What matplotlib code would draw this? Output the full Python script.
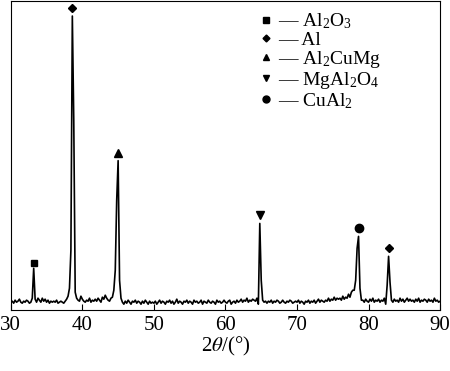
import numpy as np
import matplotlib.pyplot as plt
from matplotlib.lines import Line2D

# 2theta grid, 0.2 deg step, 30..90
two_theta = np.round(np.arange(30.0, 90.0001, 0.2), 1)

intensity = [
    8, 9, 7, 10, 8, 9, 11, 8, 7, 9,        # 30-32
    8, 10, 9, 7, 8, 12, 42, 11, 8, 12,     # 32-34
    10, 8, 12, 9, 11, 8, 10, 7, 9, 8,      # 34-36
    9, 8, 10, 7, 8, 9, 8, 7, 9, 11,        # 36-38
    14, 22, 60, 295, 190, 18, 12, 10, 9, 14,  # 38-40
    11, 9, 8, 10, 9, 12, 8, 10, 9, 11,     # 40-42
    9, 12, 10, 8, 13, 11, 15, 12, 10, 9,   # 42-44
    12, 13, 20, 40, 110, 150, 30, 12, 8, 6,  # 44-46
    9, 7, 10, 8, 6, 9, 8, 10, 7, 9,        # 46-48
    8, 6, 9, 7, 10, 8, 6, 9, 7, 8,         # 48-50
    7, 9, 6, 8, 10, 7, 9, 8, 6, 9,         # 50-52
    8, 10, 7, 9, 6, 8, 11, 7, 9, 8,        # 52-54
    6, 9, 8, 10, 7, 9, 8, 6, 10, 8,        # 54-56
    9, 7, 8, 10, 6, 9, 8, 7, 10, 8,        # 56-58
    7, 9, 8, 6, 10, 8, 9, 7, 8, 10,        # 58-60
    8, 7, 9, 10, 6, 8, 9, 7, 10, 8,        # 60-62
    9, 11, 8, 10, 9, 12, 8, 10, 9, 11,     # 62-64
    10, 9, 12, 6, 87, 30, 10, 8, 9, 7,     # 64-66
    9, 8, 10, 7, 9, 8, 10, 9, 7, 8,        # 66-68
    10, 8, 7, 9, 8, 10, 9, 7, 8, 9,        # 68-70
    8, 10, 7, 9, 8, 6, 9, 8, 10, 7,        # 70-72
    9, 8, 10, 7, 9, 11, 8, 10, 9, 8,       # 72-74
    10, 9, 12, 9, 11, 10, 13, 10, 12, 11,  # 74-76
    12, 10, 14, 11, 13, 12, 16, 13, 18, 20,  # 76-78
    20, 30, 62, 74, 22, 10, 10, 8, 11, 9,  # 78-80
    8, 11, 9, 12, 8, 10, 9, 11, 8, 10,     # 80-82
    9, 12, 6, 25, 54, 28, 10, 8, 11, 9,    # 82-84
    10, 8, 12, 9, 11, 8, 10, 12, 9, 11,    # 84-86
    9, 10, 8, 11, 9, 12, 8, 10, 9, 11,     # 86-88
    10, 8, 11, 9, 10, 8, 12, 9, 10, 8,     # 88-90
    9,
]

# phase markers above the peaks
phase_names = ["Al$_2$O$_3$", "Al", "Al$_2$CuMg", "MgAl$_2$O$_4$", "CuAl$_2$"]
phase_markers = ["s", "D", "^", "v", "o"]
peak_x = [33.2, 38.6, 45.0, 64.8, 78.6, 82.8]
peak_y = [47, 303, 158, 95, 82, 62]
peak_phase = [0, 1, 2, 3, 4, 1]

plt.rcParams["font.family"] = "Liberation Serif"
plt.rcParams["mathtext.fontset"] = "stix"
plt.rcParams["mathtext.default"] = "regular"

fig = plt.figure(figsize=(4.5, 3.71), dpi=100)
ax = fig.add_axes([0.024, 0.164, 0.954, 0.833])

ax.plot(two_theta, intensity, color="black", lw=1.2)

msize = {"s": 5, "D": 4, "^": 5.5, "v": 5.5, "o": 6}
for x, y, p in zip(peak_x, peak_y, peak_phase):
    m = phase_markers[p]
    ax.plot(x, y, marker=m, color="black", ms=msize[m], ls="none")

ax.set_xlim(30, 90)
ax.set_ylim(0, 310)
ax.set_xticks(range(30, 91, 10))
ax.tick_params(axis="x", direction="in", length=4, labelsize=15, pad=4)
ax.set_yticks([])
ax.set_xlabel(r"2$\mathit{\theta}$/(°)", fontsize=15, labelpad=0)

leg_size = {"s": 4, "D": 3.5, "^": 4.5, "v": 4.5, "o": 5}
handles = [Line2D([], [], marker=m, color="black", ls="none", ms=leg_size[m])
           for m in phase_markers]
labels = ["— " + n for n in phase_names]
ax.legend(handles, labels, loc="upper left", bbox_to_anchor=(0.55, 1.01),
          frameon=False, fontsize=14, handlelength=0.6, handletextpad=0.3,
          labelspacing=0.0, borderpad=0.2)

fig.savefig("out.png", dpi=100)
